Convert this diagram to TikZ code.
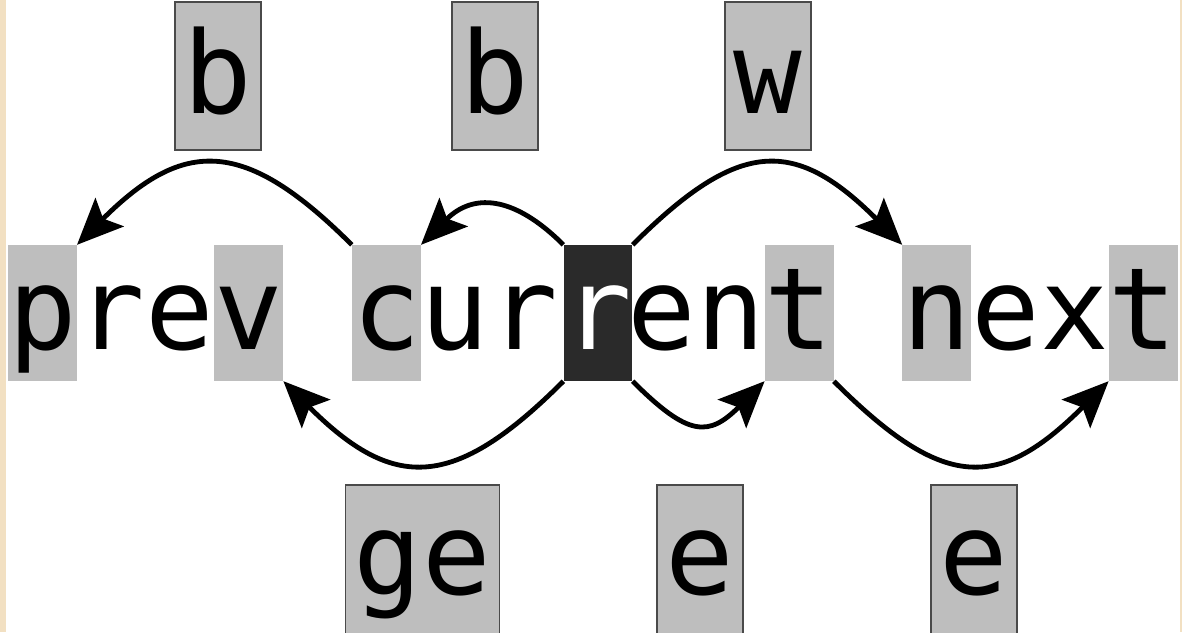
\documentclass[tikz,border=0pt]{standalone}
\usepackage{fontspec}
\usetikzlibrary{arrows.meta}
\newfontfamily\monofont{DejaVu Sans Mono}
\newcommand\glyphfont{\monofont\fontsize{114}{114}\selectfont}
\definecolor{cellgray}{HTML}{BEBEBE}
\definecolor{curdark}{HTML}{2A2A2A}
\definecolor{boxborder}{HTML}{4A4A4A}
\definecolor{edgebeige}{HTML}{F2E0C2}
\tikzset{
  glyph/.style={font=\glyphfont, inner sep=0pt, minimum width=68.8pt,
    text height=104pt, text depth=32pt, anchor=base, text=black},
  hl/.style={glyph, fill=cellgray},
  cur/.style={glyph, fill=curdark, text=white},
  lbltop/.style={font=\glyphfont, fill=cellgray, draw=boxborder, line width=1.5pt,
    inner xsep=8.5pt, inner ysep=0pt, text height=111pt, text depth=37pt, anchor=base},
  lblbot/.style={font=\glyphfont, fill=cellgray, draw=boxborder, line width=1.5pt,
    inner xsep=8.5pt, inner ysep=0pt, text height=109pt, text depth=50pt, anchor=base},
  arr/.style={line width=4.8pt, draw=black, -{Stealth[length=46pt,width=40pt,inset=9pt]}}
}
\begin{document}
\begin{tikzpicture}[x=1pt,y=-1pt]
\useasboundingbox (0,0) rectangle (1182,632);
\clip (0,0) rectangle (1182,632);
\fill[white] (0,0) rectangle (1182,632);
\fill[edgebeige] (0,0) rectangle (6,632);
\fill[edgebeige] (1180,0) rectangle (1182,632);

% main text "prev current next"
\node[hl]    (p0)  at (42.4,349)   {p};
\node[glyph] (r1)  at (111.2,349)  {r};
\node[glyph] (e2)  at (180,349)    {e};
\node[hl]    (v3)  at (248.8,349)  {v};
\node[hl]    (c5)  at (386.4,349)  {c};
\node[glyph] (u6)  at (455.2,349)  {u};
\node[glyph] (r7)  at (524,349)    {r};
\node[cur]   (r8)  at (598,349)    {r};
\node[glyph] (e9)  at (661.6,349)  {e};
\node[glyph] (n10) at (730.4,349)  {n};
\node[hl]    (t11) at (799.2,349)  {t};
\node[hl]    (n13) at (936.8,349)  {n};
\node[glyph] (e14) at (1005.6,349) {e};
\node[glyph] (x15) at (1074.4,349) {x};
\node[hl]    (t16) at (1143.2,349) {t};

% motion labels
\node[lbltop] (lb1) at (218,113) {b};
\node[lbltop] (lb2) at (495,113) {b};
\node[lbltop] (lw)  at (768,113) {w};
\node[lblbot] (lge) at (422.5,594) {ge};
\node[lblbot] (le1) at (700,594)   {e};
\node[lblbot] (le2) at (974,594)   {e};

% motions
\draw[arr] (c5.north west) .. controls +(-107,-107) and +(107,-107) .. (p0.north east);
\draw[arr] (r8.north west) .. controls +(-51,-51) and +(51,-51) .. (c5.north east);
\draw[arr] (r8.north east) .. controls +(107,-107) and +(-107,-107) .. (n13.north west);
\draw[arr] (r8.south west) .. controls +(-110,110) and +(110,110) .. (v3.south east);
\draw[arr] (r8.south east) .. controls +(56,56) and +(-56,56) .. (t11.south west);
\draw[arr] (t11.south east) .. controls +(110,110) and +(-110,110) .. (t16.south west);
\end{tikzpicture}
\end{document}
